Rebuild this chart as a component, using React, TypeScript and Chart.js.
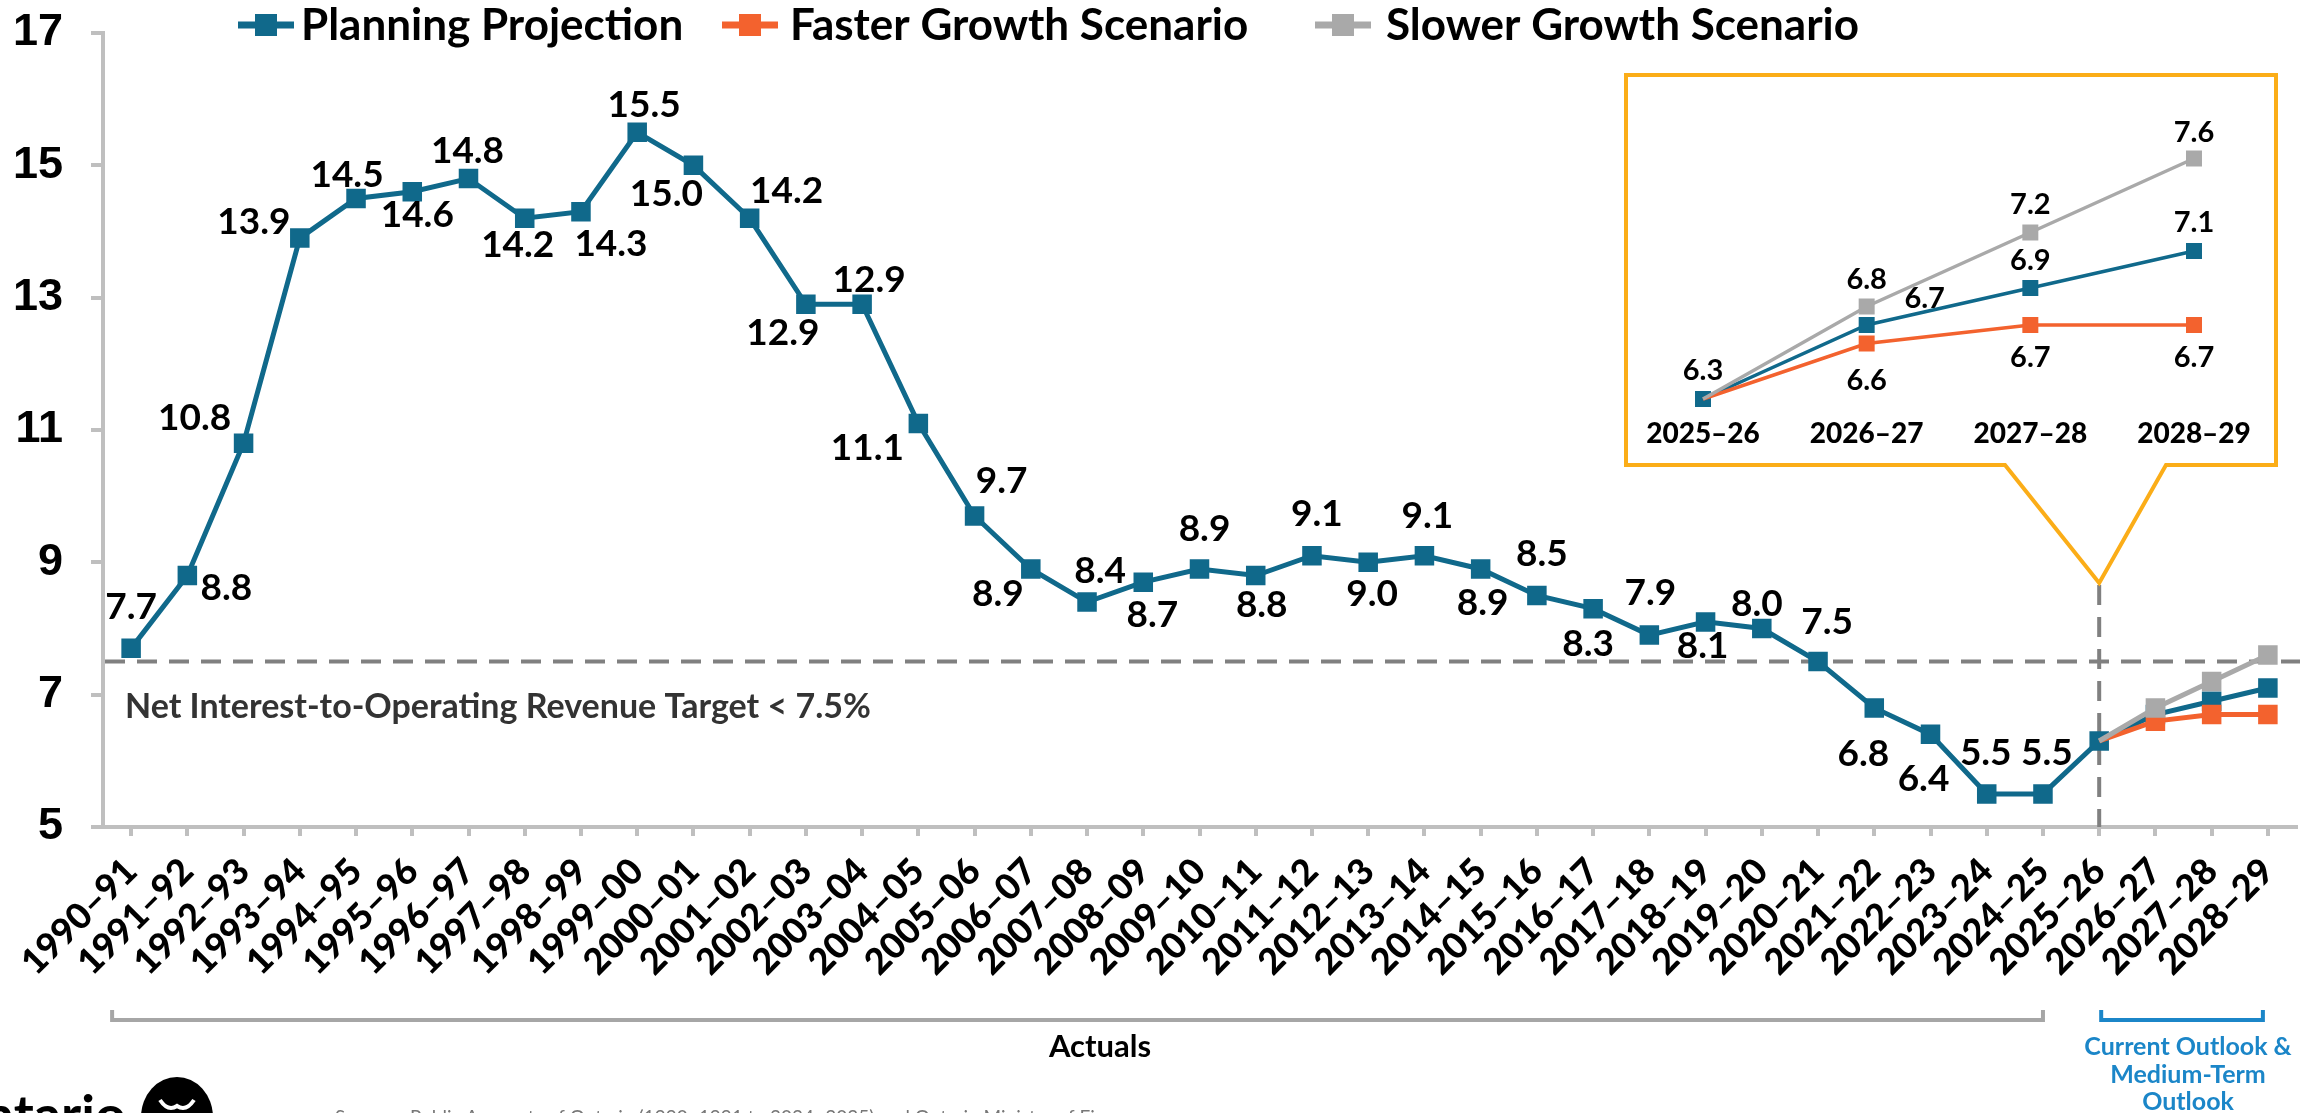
import React, { useEffect, useRef } from 'react';
import { Chart, registerables } from 'chart.js';

Chart.register(...registerables);

// ---------- DATA ----------
const years = [
  '1990–91', '1991–92', '1992–93', '1993–94', '1994–95', '1995–96', '1996–97', '1997–98',
  '1998–99', '1999–00', '2000–01', '2001–02', '2002–03', '2003–04', '2004–05', '2005–06',
  '2006–07', '2007–08', '2008–09', '2009–10', '2010–11', '2011–12', '2012–13', '2013–14',
  '2014–15', '2015–16', '2016–17', '2017–18', '2018–19', '2019–20', '2020–21', '2021–22',
  '2022–23', '2023–24', '2024–25', '2025–26', '2026–27', '2027–28', '2028–29',
];
const planning = [
  7.7, 8.8, 10.8, 13.9, 14.5, 14.6, 14.8, 14.2, 14.3, 15.5, 15.0, 14.2, 12.9, 12.9, 11.1, 9.7,
  8.9, 8.4, 8.7, 8.9, 8.8, 9.1, 9.0, 9.1, 8.9, 8.5, 8.3, 7.9, 8.1, 8.0, 7.5, 6.8, 6.4, 5.5, 5.5,
  6.3, 6.7, 6.9, 7.1,
];
const outlookYears = ['2025–26', '2026–27', '2027–28', '2028–29'];
const planningOutlook = [6.3, 6.7, 6.9, 7.1];
const fasterOutlook = [6.3, 6.6, 6.7, 6.7];
const slowerOutlook = [6.3, 6.8, 7.2, 7.6];
const yTicks = [5, 7, 9, 11, 13, 15, 17];
const targetValue = 7.5;
const lastActualIndex = 34;
const seriesNames = ['Planning Projection', 'Faster Growth Scenario', 'Slower Growth Scenario'];

// ---------- STYLE ----------
const BLUE = '#10698B';
const ORANGE = '#F3622E';
const GRAY = '#A9A9A9';
const AXIS = '#BFBFBF';
const GOLD = '#FBAD18';
const LINKBLUE = '#1B86C8';
const FONT = 'Lato, "DejaVu Sans", sans-serif';
const NARROW = '"Liberation Sans Narrow", "Arial Narrow", sans-serif';

// label offsets (dx, dy) from each point, main chart (actuals only)
const mainLabelOffsets = [
  [0, -43], [39, 11], [-49, -27], [-46, -17], [-9, -25], [5, 22], [-1, -29], [-7, 25],
  [30, 31], [7, -29], [-27, 27], [37, -29], [-23, 27], [7, -26], [-51, 23], [27, -36],
  [-33, 24], [13, -32], [9, 31], [5, -41], [6, 28], [5, -43], [4, 30], [3, -41],
  [2, 33], [5, -43], [-5, 34], [1, -43], [-3, 23], [-5, -26], [9, -41], [-11, 45],
  [-7, 43], [-1, -42], [4, -42],
];
const insetLabelOffsets = [
  [[0, -29], [58, -27], [0, -28], [0, -29]],
  [null, [0, 36], [0, 32], [0, 32]],
  [null, [0, -28], [0, -29], [0, -27]],
];

function drawCenteredLabel(ctx, text, x, y, size) {
  ctx.font = `bold ${size}px ${FONT}`;
  ctx.textAlign = 'center';
  ctx.textBaseline = 'alphabetic';
  ctx.fillText(text, x, y + size * 0.36);
}

const mainPlugin = {
  id: 'mainDecor',
  beforeDatasetsDraw(chart) {
    const { ctx, chartArea, scales } = chart;
    const xs = scales.x;
    const ys = scales.y;
    ctx.save();
    ctx.strokeStyle = '#808080';
    ctx.lineWidth = 4;
    ctx.setLineDash([20, 12]);
    const yt = ys.getPixelForValue(targetValue);
    ctx.beginPath();
    ctx.moveTo(chartArea.left + 2, yt);
    ctx.lineTo(chartArea.right + 4, yt);
    ctx.stroke();
    const xv = xs.getPixelForValue(lastActualIndex + 1);
    ctx.beginPath();
    ctx.moveTo(xv, 585);
    ctx.lineTo(xv, chartArea.bottom);
    ctx.stroke();
    ctx.setLineDash([]);
    ctx.fillStyle = '#333333';
    ctx.font = `bold 34px ${FONT}`;
    ctx.textAlign = 'left';
    ctx.textBaseline = 'alphabetic';
    ctx.fillText('Net Interest-to-Operating Revenue Target < 7.5%', 125, 718);
    ctx.restore();
  },
  afterDatasetsDraw(chart) {
    const { ctx } = chart;
    const meta = chart.getDatasetMeta(0);
    ctx.save();
    ctx.fillStyle = '#000';
    for (let i = 0; i <= lastActualIndex; i++) {
      const el = meta.data[i];
      const [dx, dy] = mainLabelOffsets[i];
      drawCenteredLabel(ctx, planning[i].toFixed(1), el.x + dx, el.y + dy, 37);
    }
    ctx.restore();
  },
  afterDraw(chart) {
    const { ctx, scales } = chart;
    const xs = scales.x;
    ctx.save();
    // legend
    const legendItems = [
      { color: BLUE, mx: 266, tx: 301 },
      { color: ORANGE, mx: 750, tx: 790 },
      { color: GRAY, mx: 1343, tx: 1386 },
    ];
    legendItems.forEach((it, i) => {
      ctx.strokeStyle = it.color;
      ctx.lineWidth = 7;
      ctx.beginPath();
      ctx.moveTo(it.mx - 28, 25);
      ctx.lineTo(it.mx + 28, 25);
      ctx.stroke();
      ctx.fillStyle = it.color;
      ctx.fillRect(it.mx - 11, 14, 22, 22);
      ctx.fillStyle = '#000';
      ctx.font = `bold 44px ${FONT}`;
      ctx.textAlign = 'left';
      ctx.textBaseline = 'alphabetic';
      ctx.fillText(seriesNames[i], it.tx, 40);
    });

    // inset box with callout
    const tipX = xs.getPixelForValue(lastActualIndex + 1);
    ctx.fillStyle = '#fff';
    ctx.strokeStyle = GOLD;
    ctx.lineWidth = 4;
    ctx.lineJoin = 'miter';
    ctx.beginPath();
    ctx.moveTo(2005, 465);
    ctx.lineTo(1626, 465);
    ctx.lineTo(1626, 75);
    ctx.lineTo(2276, 75);
    ctx.lineTo(2276, 465);
    ctx.lineTo(2166, 465);
    ctx.lineTo(tipX, 583);
    ctx.closePath();
    ctx.fill();
    ctx.stroke();

    // brackets
    const aL = xs.getPixelForValue(0) - 19;
    const aR = xs.getPixelForValue(lastActualIndex);
    ctx.strokeStyle = '#A6A6A6';
    ctx.lineWidth = 4;
    ctx.beginPath();
    ctx.moveTo(aL, 1010);
    ctx.lineTo(aL, 1020);
    ctx.lineTo(aR, 1020);
    ctx.lineTo(aR, 1010);
    ctx.stroke();
    ctx.fillStyle = '#000';
    ctx.font = `bold 31px ${FONT}`;
    ctx.textAlign = 'center';
    ctx.textBaseline = 'middle';
    ctx.fillText('Actuals', 1100, 1047);

    const oL = xs.getPixelForValue(lastActualIndex + 1) + 2;
    const oR = xs.getPixelForValue(years.length - 1) - 5;
    ctx.strokeStyle = LINKBLUE;
    ctx.beginPath();
    ctx.moveTo(oL, 1010);
    ctx.lineTo(oL, 1020);
    ctx.lineTo(oR, 1020);
    ctx.lineTo(oR, 1010);
    ctx.stroke();
    ctx.fillStyle = LINKBLUE;
    ctx.font = `bold 25px ${FONT}`;
    ctx.fillText('Current Outlook &', 2188, 1047);
    ctx.fillText('Medium-Term', 2188, 1075);
    ctx.fillText('Outlook', 2188, 1102);

    // logo / source (cut off at bottom)
    ctx.fillStyle = '#000';
    ctx.font = `bold 54px ${FONT}`;
    ctx.textAlign = 'right';
    ctx.textBaseline = 'alphabetic';
    ctx.fillText('Ontario', 126, 1134);
    ctx.beginPath();
    ctx.ellipse(177, 1117, 36, 40, 0, 0, Math.PI * 2);
    ctx.fill();
    ctx.strokeStyle = '#fff';
    ctx.lineWidth = 4;
    ctx.beginPath();
    ctx.moveTo(160, 1100);
    ctx.quadraticCurveTo(168, 1112, 177, 1106);
    ctx.quadraticCurveTo(186, 1112, 194, 1100);
    ctx.stroke();
    ctx.fillStyle = '#777';
    ctx.font = `19px ${FONT}`;
    ctx.textAlign = 'left';
    ctx.fillText('Sources: Public Accounts of Ontario (1990–1991 to 2024–2025) and Ontario Ministry of Finance.', 335, 1124);
    ctx.restore();
  },
};

const insetPlugin = {
  id: 'insetLabels',
  afterDatasetsDraw(chart) {
    const { ctx } = chart;
    ctx.save();
    ctx.fillStyle = '#000';
    const sets = [planningOutlook, fasterOutlook, slowerOutlook];
    sets.forEach((vals, d) => {
      const meta = chart.getDatasetMeta(d);
      vals.forEach((v, i) => {
        const off = insetLabelOffsets[d][i];
        if (!off) return;
        const el = meta.data[i];
        drawCenteredLabel(ctx, v.toFixed(1), el.x + off[0], el.y + off[1], 29);
      });
    });
    ctx.restore();
  },
};

export default function App() {
  const mainRef = useRef(null);
  const insetRef = useRef(null);

  useEffect(() => {
    const R = 13.8;
    const main = new Chart(mainRef.current, {
      type: 'line',
      data: {
        labels: years,
        datasets: [
          {
            label: seriesNames[0],
            data: planning,
            borderColor: BLUE,
            backgroundColor: BLUE,
            borderWidth: 5,
            pointStyle: 'rect',
            pointRadius: R,
            pointHoverRadius: 0,
            pointBorderWidth: 0,
            pointBackgroundColor: BLUE,
            order: 2,
          },
          {
            label: seriesNames[1],
            data: outlookYears.map((x, i) => ({ x, y: fasterOutlook[i] })),
            borderColor: ORANGE,
            backgroundColor: ORANGE,
            borderWidth: 5,
            pointStyle: 'rect',
            pointRadius: outlookYears.map((_, i) => (i === 0 ? 0 : R)),
            pointHoverRadius: 0,
            pointBorderWidth: 0,
            pointBackgroundColor: ORANGE,
            order: 1,
          },
          {
            label: seriesNames[2],
            data: outlookYears.map((x, i) => ({ x, y: slowerOutlook[i] })),
            borderColor: GRAY,
            backgroundColor: GRAY,
            borderWidth: 5,
            pointStyle: 'rect',
            pointRadius: outlookYears.map((_, i) => (i === 0 ? 0 : R)),
            pointHoverRadius: 0,
            pointBorderWidth: 0,
            pointBackgroundColor: GRAY,
            order: 0,
          },
        ],
      },
      options: {
        responsive: false,
        animation: false,
        events: [],
        layout: { autoPadding: false, padding: { left: 0, right: 20, top: 33, bottom: 0 } },
        plugins: { legend: { display: false }, tooltip: { enabled: false } },
        scales: {
          x: {
            type: 'category',
            offset: true,
            grid: { drawOnChartArea: false, drawTicks: true, tickLength: 9, color: AXIS, lineWidth: 4 },
            border: { color: AXIS, width: 4 },
            ticks: {
              autoSkip: false,
              minRotation: 45,
              maxRotation: 45,
              padding: 14,
              color: '#000',
              font: { family: FONT, size: 36, weight: '900' },
            },
            afterFit: (s) => {
              s.height = 1113 - 827;
              s.paddingTop = 0;
              s.paddingBottom = 0;
            },
          },
          y: {
            min: 5,
            max: 17,
            afterBuildTicks: (s) => { s.ticks = yTicks.map((v) => ({ value: v })); },
            grid: { drawOnChartArea: false, drawTicks: true, tickLength: 12, color: AXIS, lineWidth: 4 },
            border: { color: AXIS, width: 4 },
            ticks: {
              padding: 28,
              color: '#000',
              font: { family: NARROW, size: 45, weight: 'bold' },
            },
            afterFit: (s) => {
              s.width = 103;
              s.paddingTop = 0;
              s.paddingBottom = 0;
            },
          },
        },
      },
      plugins: [mainPlugin],
    });

    const r2 = 11.3;
    const inset = new Chart(insetRef.current, {
      type: 'line',
      data: {
        labels: outlookYears,
        datasets: [
          {
            data: planningOutlook,
            borderColor: BLUE,
            borderWidth: 3.5,
            pointStyle: 'rect',
            pointRadius: r2,
            pointHoverRadius: 0,
            pointBorderWidth: 0,
            pointBackgroundColor: BLUE,
            order: 2,
          },
          {
            data: fasterOutlook,
            borderColor: ORANGE,
            borderWidth: 3.5,
            pointStyle: 'rect',
            pointRadius: outlookYears.map((_, i) => (i === 0 ? 0 : r2)),
            pointHoverRadius: 0,
            pointBorderWidth: 0,
            pointBackgroundColor: ORANGE,
            order: 1,
          },
          {
            data: slowerOutlook,
            borderColor: GRAY,
            borderWidth: 3.5,
            pointStyle: 'rect',
            pointRadius: outlookYears.map((_, i) => (i === 0 ? 0 : r2)),
            pointHoverRadius: 0,
            pointBorderWidth: 0,
            pointBackgroundColor: GRAY,
            order: 0,
          },
        ],
      },
      options: {
        responsive: false,
        animation: false,
        events: [],
        layout: { autoPadding: false, padding: { left: 73, right: 76, top: 41.5, bottom: 0 } },
        plugins: { legend: { display: false }, tooltip: { enabled: false } },
        scales: {
          x: {
            offset: false,
            grid: { display: false, drawTicks: false },
            border: { display: false },
            ticks: {
              autoSkip: false,
              maxRotation: 0,
              padding: 0,
              color: '#000',
              font: { family: FONT, size: 28, weight: '900' },
            },
            afterFit: (s) => {
              s.height = 42.5;
              s.paddingLeft = 0;
              s.paddingRight = 0;
            },
          },
          y: { display: false, min: 6.2, max: 7.8 },
        },
      },
      plugins: [insetPlugin],
    });

    return () => {
      main.destroy();
      inset.destroy();
    };
  }, []);

  return (
    <div style={{ position: 'absolute', left: 0, top: 0, width: 2316, height: 1113, background: '#fff', overflow: 'hidden' }}>
      <canvas ref={mainRef} width={2316} height={1113} style={{ position: 'absolute', left: 0, top: 0 }} />
      <canvas ref={insetRef} width={640} height={380} style={{ position: 'absolute', left: 1630, top: 80 }} />
    </div>
  );
}
